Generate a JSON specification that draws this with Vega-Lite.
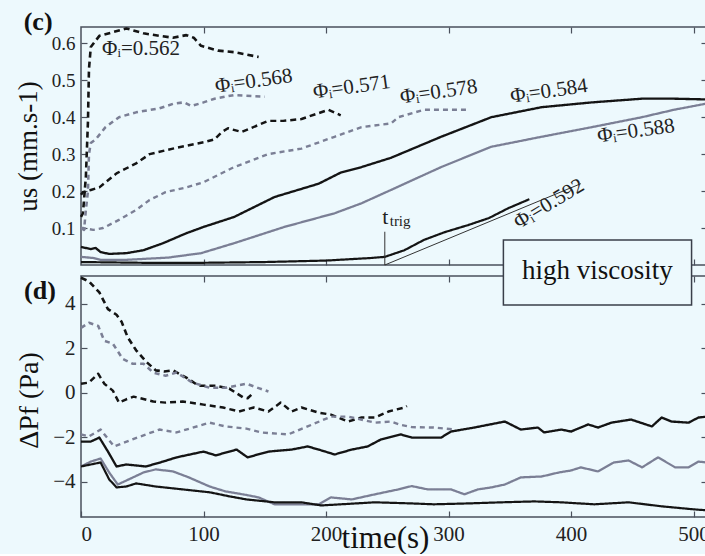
{
  "$schema": "https://vega.github.io/schema/vega-lite/v6.json",
  "background": "#edf9fd",
  "padding": {"left": 13, "top": 8, "right": 0, "bottom": 0},
  "spacing": 11,
  "bounds": "flush",
  "config": {
    "font": "Liberation Serif",
    "view": {"stroke": "#4a505c", "strokeWidth": 1.5},
    "axis": {"domain": false, "grid": false, "tickColor": "#4a505c", "tickSize": -6, "tickWidth": 1.2,
      "labelFont": "Liberation Serif", "titleFont": "Liberation Serif", "labelColor": "#222", "titleColor": "#111", "titleFontWeight": "normal"},
    "text": {"font": "Liberation Serif", "color": "#222"}
  },
  "datasets": {
    "us": [
      {"s":"0.562","t":0,"v":0.13},{"s":"0.562","t":1.6,"v":0.14},{"s":"0.562","t":4,"v":0.24},{"s":"0.562","t":5.7,"v":0.39},{"s":"0.562","t":6.5,"v":0.53},{"s":"0.562","t":8,"v":0.59},{"s":"0.562","t":15,"v":0.62},{"s":"0.562","t":26,"v":0.63},{"s":"0.562","t":37,"v":0.64},{"s":"0.562","t":51,"v":0.627},{"s":"0.562","t":64,"v":0.62},{"s":"0.562","t":75,"v":0.615},{"s":"0.562","t":86,"v":0.622},{"s":"0.562","t":92,"v":0.615},{"s":"0.562","t":98,"v":0.593},{"s":"0.562","t":112,"v":0.58},{"s":"0.562","t":125,"v":0.576},{"s":"0.562","t":145,"v":0.563},
      {"s":"0.568","t":0,"v":0.1},{"s":"0.568","t":2.5,"v":0.095},{"s":"0.568","t":4,"v":0.15},{"s":"0.568","t":5.7,"v":0.2},{"s":"0.568","t":6.5,"v":0.3},{"s":"0.568","t":8,"v":0.33},{"s":"0.568","t":12,"v":0.34},{"s":"0.568","t":20,"v":0.373},{"s":"0.568","t":31,"v":0.4},{"s":"0.568","t":45,"v":0.413},{"s":"0.568","t":64,"v":0.424},{"s":"0.568","t":76,"v":0.437},{"s":"0.568","t":84,"v":0.44},{"s":"0.568","t":90,"v":0.43},{"s":"0.568","t":100,"v":0.44},{"s":"0.568","t":109,"v":0.45},{"s":"0.568","t":125,"v":0.46},{"s":"0.568","t":150,"v":0.455},
      {"s":"0.571","t":0,"v":0.19},{"s":"0.571","t":1.6,"v":0.197},{"s":"0.571","t":8,"v":0.203},{"s":"0.571","t":15,"v":0.21},{"s":"0.571","t":29,"v":0.248},{"s":"0.571","t":45,"v":0.275},{"s":"0.571","t":56,"v":0.3},{"s":"0.571","t":75,"v":0.315},{"s":"0.571","t":100,"v":0.332},{"s":"0.571","t":109,"v":0.34},{"s":"0.571","t":115,"v":0.36},{"s":"0.571","t":120,"v":0.37},{"s":"0.571","t":131,"v":0.36},{"s":"0.571","t":153,"v":0.39},{"s":"0.571","t":165,"v":0.39},{"s":"0.571","t":180,"v":0.395},{"s":"0.571","t":202,"v":0.42},{"s":"0.571","t":212,"v":0.405},
      {"s":"0.578","t":0,"v":0.1},{"s":"0.578","t":1.6,"v":0.1},{"s":"0.578","t":10,"v":0.095},{"s":"0.578","t":18,"v":0.1},{"s":"0.578","t":31,"v":0.122},{"s":"0.578","t":45,"v":0.149},{"s":"0.578","t":56,"v":0.176},{"s":"0.578","t":69,"v":0.197},{"s":"0.578","t":86,"v":0.21},{"s":"0.578","t":100,"v":0.224},{"s":"0.578","t":125,"v":0.265},{"s":"0.578","t":153,"v":0.3},{"s":"0.578","t":180,"v":0.315},{"s":"0.578","t":207,"v":0.347},{"s":"0.578","t":229,"v":0.373},{"s":"0.578","t":253,"v":0.383},{"s":"0.578","t":259,"v":0.4},{"s":"0.578","t":280,"v":0.42},{"s":"0.578","t":316,"v":0.42},
      {"s":"0.584","t":0,"v":0.049},{"s":"0.584","t":8,"v":0.043},{"s":"0.584","t":12,"v":0.046},{"s":"0.584","t":16,"v":0.035},{"s":"0.584","t":23,"v":0.03},{"s":"0.584","t":37,"v":0.032},{"s":"0.584","t":51,"v":0.04},{"s":"0.584","t":67,"v":0.059},{"s":"0.584","t":86,"v":0.086},{"s":"0.584","t":100,"v":0.103},{"s":"0.584","t":125,"v":0.13},{"s":"0.584","t":158,"v":0.184},{"s":"0.584","t":194,"v":0.22},{"s":"0.584","t":212,"v":0.25},{"s":"0.584","t":229,"v":0.265},{"s":"0.584","t":253,"v":0.29},{"s":"0.584","t":294,"v":0.347},{"s":"0.584","t":335,"v":0.4},{"s":"0.584","t":376,"v":0.427},{"s":"0.584","t":417,"v":0.44},{"s":"0.584","t":458,"v":0.45},{"s":"0.584","t":484,"v":0.45},{"s":"0.584","t":511,"v":0.448},
      {"s":"0.588","t":0,"v":0.022},{"s":"0.588","t":10,"v":0.019},{"s":"0.588","t":16,"v":0.014},{"s":"0.588","t":37,"v":0.014},{"s":"0.588","t":71,"v":0.02},{"s":"0.588","t":98,"v":0.032},{"s":"0.588","t":125,"v":0.059},{"s":"0.588","t":166,"v":0.103},{"s":"0.588","t":207,"v":0.14},{"s":"0.588","t":229,"v":0.167},{"s":"0.588","t":253,"v":0.203},{"s":"0.588","t":294,"v":0.265},{"s":"0.588","t":335,"v":0.32},{"s":"0.588","t":376,"v":0.347},{"s":"0.588","t":417,"v":0.373},{"s":"0.588","t":458,"v":0.4},{"s":"0.588","t":484,"v":0.42},{"s":"0.588","t":511,"v":0.437},
      {"s":"0.592","t":0,"v":0.008},{"s":"0.592","t":50,"v":0.006},{"s":"0.592","t":100,"v":0.006},{"s":"0.592","t":150,"v":0.008},{"s":"0.592","t":200,"v":0.012},{"s":"0.592","t":237,"v":0.019},{"s":"0.592","t":248,"v":0.022},{"s":"0.592","t":264,"v":0.04},{"s":"0.592","t":280,"v":0.068},{"s":"0.592","t":297,"v":0.089},{"s":"0.592","t":316,"v":0.108},{"s":"0.592","t":333,"v":0.127},{"s":"0.592","t":349,"v":0.154},{"s":"0.592","t":366,"v":0.178}
    ],
    "dp": [
      {"s":"0.562","t":0,"v":5.16},{"s":"0.562","t":6.5,"v":5.0},{"s":"0.562","t":15,"v":4.5},{"s":"0.562","t":22,"v":3.75},{"s":"0.562","t":29,"v":3.5},{"s":"0.562","t":33,"v":3.2},{"s":"0.562","t":38,"v":2.5},{"s":"0.562","t":45,"v":1.9},{"s":"0.562","t":53,"v":1.4},{"s":"0.562","t":61,"v":1.0},{"s":"0.562","t":68,"v":0.95},{"s":"0.562","t":75,"v":1.0},{"s":"0.562","t":86,"v":0.67},{"s":"0.562","t":96,"v":0.31},{"s":"0.562","t":110,"v":0.31},{"s":"0.562","t":121,"v":0.18},{"s":"0.562","t":132,"v":-0.2},{"s":"0.562","t":136,"v":-0.25},{"s":"0.562","t":141,"v":0.0},
      {"s":"0.568","t":0,"v":2.91},{"s":"0.568","t":6.5,"v":3.14},{"s":"0.568","t":14,"v":3.0},{"s":"0.568","t":19,"v":2.33},{"s":"0.568","t":26,"v":2.2},{"s":"0.568","t":34,"v":1.52},{"s":"0.568","t":42,"v":1.3},{"s":"0.568","t":51,"v":1.3},{"s":"0.568","t":59,"v":0.9},{"s":"0.568","t":69,"v":0.76},{"s":"0.568","t":78,"v":0.9},{"s":"0.568","t":91,"v":0.45},{"s":"0.568","t":105,"v":0.22},{"s":"0.568","t":118,"v":0.22},{"s":"0.568","t":135,"v":0.4},{"s":"0.568","t":145,"v":0.2},{"s":"0.568","t":153,"v":0.05},
      {"s":"0.571","t":0,"v":0.4},{"s":"0.571","t":6.5,"v":0.45},{"s":"0.571","t":14,"v":0.85},{"s":"0.571","t":19,"v":0.4},{"s":"0.571","t":26,"v":0.09},{"s":"0.571","t":31,"v":-0.45},{"s":"0.571","t":37,"v":-0.3},{"s":"0.571","t":43,"v":-0.18},{"s":"0.571","t":59,"v":-0.4},{"s":"0.571","t":69,"v":-0.45},{"s":"0.571","t":83,"v":-0.4},{"s":"0.571","t":100,"v":-0.54},{"s":"0.571","t":116,"v":-0.67},{"s":"0.571","t":129,"v":-0.85},{"s":"0.571","t":141,"v":-0.67},{"s":"0.571","t":153,"v":-0.85},{"s":"0.571","t":163,"v":-0.45},{"s":"0.571","t":172,"v":-0.85},{"s":"0.571","t":180,"v":-0.67},{"s":"0.571","t":194,"v":-0.9},{"s":"0.571","t":204,"v":-0.99},{"s":"0.571","t":218,"v":-1.3},{"s":"0.571","t":229,"v":-1.12},{"s":"0.571","t":240,"v":-1.12},{"s":"0.571","t":251,"v":-0.85},{"s":"0.571","t":264,"v":-0.67},{"s":"0.571","t":266,"v":-0.6},
      {"s":"0.578","t":0,"v":-1.88},{"s":"0.578","t":6.5,"v":-1.97},{"s":"0.578","t":16,"v":-1.66},{"s":"0.578","t":27,"v":-2.42},{"s":"0.578","t":42,"v":-2.1},{"s":"0.578","t":64,"v":-1.66},{"s":"0.578","t":78,"v":-1.79},{"s":"0.578","t":105,"v":-1.35},{"s":"0.578","t":118,"v":-1.52},{"s":"0.578","t":135,"v":-1.62},{"s":"0.578","t":147,"v":-1.79},{"s":"0.578","t":169,"v":-1.88},{"s":"0.578","t":185,"v":-1.52},{"s":"0.578","t":204,"v":-1.08},{"s":"0.578","t":218,"v":-1.08},{"s":"0.578","t":240,"v":-1.35},{"s":"0.578","t":253,"v":-1.3},{"s":"0.578","t":261,"v":-1.45},{"s":"0.578","t":270,"v":-1.55},{"s":"0.578","t":288,"v":-1.57},{"s":"0.578","t":305,"v":-1.66},
      {"s":"0.584","t":0,"v":-2.2},{"s":"0.584","t":8,"v":-2.2},{"s":"0.584","t":15,"v":-2.02},{"s":"0.584","t":22,"v":-2.65},{"s":"0.584","t":29,"v":-3.32},{"s":"0.584","t":37,"v":-3.23},{"s":"0.584","t":53,"v":-3.32},{"s":"0.584","t":67,"v":-3.1},{"s":"0.584","t":78,"v":-2.91},{"s":"0.584","t":100,"v":-2.65},{"s":"0.584","t":110,"v":-2.82},{"s":"0.584","t":127,"v":-2.56},{"s":"0.584","t":136,"v":-2.91},{"s":"0.584","t":153,"v":-2.65},{"s":"0.584","t":172,"v":-2.56},{"s":"0.584","t":185,"v":-2.42},{"s":"0.584","t":194,"v":-2.56},{"s":"0.584","t":207,"v":-2.78},{"s":"0.584","t":221,"v":-2.56},{"s":"0.584","t":234,"v":-2.42},{"s":"0.584","t":245,"v":-2.1},{"s":"0.584","t":261,"v":-1.88},{"s":"0.584","t":270,"v":-2.02},{"s":"0.584","t":294,"v":-2.02},{"s":"0.584","t":302,"v":-1.75},{"s":"0.584","t":321,"v":-1.57},{"s":"0.584","t":346,"v":-1.3},{"s":"0.584","t":359,"v":-1.66},{"s":"0.584","t":373,"v":-1.57},{"s":"0.584","t":378,"v":-1.79},{"s":"0.584","t":392,"v":-1.66},{"s":"0.584","t":400,"v":-1.75},{"s":"0.584","t":414,"v":-1.43},{"s":"0.584","t":422,"v":-1.57},{"s":"0.584","t":433,"v":-1.35},{"s":"0.584","t":449,"v":-1.21},{"s":"0.584","t":466,"v":-1.52},{"s":"0.584","t":474,"v":-1.12},{"s":"0.584","t":482,"v":-1.3},{"s":"0.584","t":496,"v":-1.35},{"s":"0.584","t":504,"v":-1.12},{"s":"0.584","t":511,"v":-1.08},
      {"s":"0.588","t":0,"v":-3.32},{"s":"0.588","t":8,"v":-3.1},{"s":"0.588","t":16,"v":-2.96},{"s":"0.588","t":23,"v":-3.59},{"s":"0.588","t":30,"v":-4.13},{"s":"0.588","t":39,"v":-3.9},{"s":"0.588","t":51,"v":-3.59},{"s":"0.588","t":61,"v":-3.45},{"s":"0.588","t":75,"v":-3.54},{"s":"0.588","t":88,"v":-3.81},{"s":"0.588","t":105,"v":-4.22},{"s":"0.588","t":118,"v":-4.44},{"s":"0.588","t":135,"v":-4.6},{"s":"0.588","t":145,"v":-4.71},{"s":"0.588","t":158,"v":-5.02},{"s":"0.588","t":177,"v":-5.02},{"s":"0.588","t":194,"v":-5.02},{"s":"0.588","t":204,"v":-4.71},{"s":"0.588","t":221,"v":-4.8},{"s":"0.588","t":240,"v":-4.57},{"s":"0.588","t":259,"v":-4.35},{"s":"0.588","t":270,"v":-4.2},{"s":"0.588","t":283,"v":-4.35},{"s":"0.588","t":302,"v":-4.35},{"s":"0.588","t":313,"v":-4.57},{"s":"0.588","t":324,"v":-4.35},{"s":"0.588","t":335,"v":-4.26},{"s":"0.588","t":346,"v":-4.13},{"s":"0.588","t":359,"v":-3.81},{"s":"0.588","t":376,"v":-3.77},{"s":"0.588","t":390,"v":-3.59},{"s":"0.588","t":400,"v":-3.5},{"s":"0.588","t":408,"v":-3.36},{"s":"0.588","t":422,"v":-3.54},{"s":"0.588","t":435,"v":-3.14},{"s":"0.588","t":447,"v":-3.05},{"s":"0.588","t":458,"v":-3.36},{"s":"0.588","t":471,"v":-2.91},{"s":"0.588","t":485,"v":-3.36},{"s":"0.588","t":496,"v":-3.36},{"s":"0.588","t":504,"v":-3.1},{"s":"0.588","t":511,"v":-3.14},
      {"s":"0.592","t":0,"v":-3.32},{"s":"0.592","t":8,"v":-3.23},{"s":"0.592","t":16,"v":-3.14},{"s":"0.592","t":23,"v":-3.9},{"s":"0.592","t":29,"v":-4.26},{"s":"0.592","t":37,"v":-4.22},{"s":"0.592","t":45,"v":-4.08},{"s":"0.592","t":61,"v":-4.22},{"s":"0.592","t":83,"v":-4.35},{"s":"0.592","t":105,"v":-4.48},{"s":"0.592","t":121,"v":-4.66},{"s":"0.592","t":135,"v":-4.8},{"s":"0.592","t":158,"v":-4.93},{"s":"0.592","t":180,"v":-4.93},{"s":"0.592","t":196,"v":-5.07},{"s":"0.592","t":212,"v":-5.02},{"s":"0.592","t":240,"v":-4.93},{"s":"0.592","t":270,"v":-4.98},{"s":"0.592","t":288,"v":-5.02},{"s":"0.592","t":316,"v":-4.98},{"s":"0.592","t":343,"v":-4.93},{"s":"0.592","t":370,"v":-4.89},{"s":"0.592","t":392,"v":-4.93},{"s":"0.592","t":419,"v":-5.02},{"s":"0.592","t":447,"v":-4.93},{"s":"0.592","t":474,"v":-5.11},{"s":"0.592","t":501,"v":-5.25},{"s":"0.592","t":511,"v":-5.29}
    ],
    "annot": [
      {"g":"tangent","t":248,"v":0.0},{"g":"tangent","t":408,"v":0.22},
      {"g":"trig","t":248,"v":0.0},{"g":"trig","t":248,"v":0.09}
    ],
    "labels": [
      {"label":"Φᵢ=0.562","t":49,"v":0.584,"grp":"flat"},
      {"label":"Φᵢ=0.568","t":141,"v":0.497,"grp":"tilt"},
      {"label":"Φᵢ=0.571","t":221,"v":0.481,"grp":"tilt"},
      {"label":"Φᵢ=0.578","t":292,"v":0.468,"grp":"tilt"},
      {"label":"Φᵢ=0.584","t":382,"v":0.47,"grp":"tilt"},
      {"label":"Φᵢ=0.588","t":453,"v":0.362,"grp":"tilt"},
      {"label":"Φᵢ=0.592","t":382,"v":0.165,"grp":"steep"}
    ]
  },
  "vconcat": [
    {
      "width": 626,
      "height": 238,
      "resolve": {"axis": {"x": "independent", "y": "independent"}},
      "layer": [
        {
          "data": {"name": "us"},
          "mark": {"type": "line", "strokeJoin": "round"},
          "encoding": {
            "x": {"field": "t", "type": "quantitative", "scale": {"domain": [0, 511], "nice": false, "zero": false},
              "axis": {"orient": "bottom", "labels": false, "title": null, "values": [100, 200, 300, 400, 500]}},
            "y": {"field": "v", "type": "quantitative", "scale": {"domain": [0, 0.644], "nice": false},
              "axis": {"orient": "left", "values": [0.1, 0.2, 0.3, 0.4, 0.5, 0.6], "format": ".1f", "labelFontSize": 19, "labelPadding": 12, "labelFont": "Liberation Serif",
                "title": "us (mm.s-1)", "titleFont": "Liberation Serif", "titleFontSize": 27, "titleAngle": 270, "titleX": -53, "titleY": 119, "titleAlign": "center", "titleBaseline": "middle"}},
            "detail": {"field": "s"},
            "color": {"field": "s", "type": "nominal", "legend": null,
              "scale": {"domain": ["0.562","0.568","0.571","0.578","0.584","0.588","0.592"], "range": ["#141414","#7b7f95","#141414","#7b7f95","#141414","#7b7f95","#141414"]}},
            "strokeDash": {"field": "s", "type": "nominal", "legend": null,
              "scale": {"domain": ["0.562","0.568","0.571","0.578","0.584","0.588","0.592"], "range": [[6,4],[5,4],[6,4],[5,4],[1,0],[1,0],[1,0]]}},
            "strokeWidth": {"field": "s", "type": "nominal", "legend": null,
              "scale": {"domain": ["0.562","0.568","0.571","0.578","0.584","0.588","0.592"], "range": [2.6,2.2,2.6,2.2,2.3,2.1,2.3]}}
          }
        },
        {
          "data": {"name": "annot"},
          "mark": {"type": "line", "color": "#333", "strokeWidth": 1},
          "encoding": {
            "x": {"field": "t", "type": "quantitative", "axis": {"orient": "top", "labels": false, "title": null, "values": [100, 200, 300, 400, 500]}},
            "y": {"field": "v", "type": "quantitative", "axis": {"orient": "right", "labels": false, "title": null, "values": [0.1, 0.2, 0.3, 0.4, 0.5, 0.6]}},
            "detail": {"field": "g"}
          }
        },
        {
          "data": {"name": "labels"},
          "transform": [{"filter": "datum.grp == 'flat'"}],
          "mark": {"type": "text", "font": "Liberation Serif", "fontSize": 21, "align": "center", "baseline": "middle"},
          "encoding": {
            "x": {"field": "t", "type": "quantitative", "axis": null},
            "y": {"field": "v", "type": "quantitative", "axis": null},
            "text": {"field": "label"}
          }
        },
        {
          "data": {"name": "labels"},
          "transform": [{"filter": "datum.grp == 'tilt'"}],
          "mark": {"type": "text", "font": "Liberation Serif", "fontSize": 21, "align": "center", "baseline": "middle", "angle": 352},
          "encoding": {
            "x": {"field": "t", "type": "quantitative", "axis": null},
            "y": {"field": "v", "type": "quantitative", "axis": null},
            "text": {"field": "label"}
          }
        },
        {
          "data": {"name": "labels"},
          "transform": [{"filter": "datum.grp == 'steep'"}],
          "mark": {"type": "text", "font": "Liberation Serif", "fontSize": 21, "align": "center", "baseline": "middle", "angle": 329},
          "encoding": {
            "x": {"field": "t", "type": "quantitative", "axis": null},
            "y": {"field": "v", "type": "quantitative", "axis": null},
            "text": {"field": "label"}
          }
        },
        {
          "data": {"values": [{"label": "t", "t": 246, "v": 0.13}]},
          "mark": {"type": "text", "font": "Liberation Serif", "fontSize": 22, "align": "left", "baseline": "middle"},
          "encoding": {
            "x": {"field": "t", "type": "quantitative", "axis": null},
            "y": {"field": "v", "type": "quantitative", "axis": null},
            "text": {"field": "label"}
          }
        },
        {
          "data": {"values": [{"label": "trig", "t": 252, "v": 0.12}]},
          "mark": {"type": "text", "font": "Liberation Serif", "fontSize": 15, "align": "left", "baseline": "middle"},
          "encoding": {
            "x": {"field": "t", "type": "quantitative", "axis": null},
            "y": {"field": "v", "type": "quantitative", "axis": null},
            "text": {"field": "label"}
          }
        },
        {
          "data": {"values": [{"label": "(c)", "t": -35, "v": 0.657}]},
          "mark": {"type": "text", "font": "Liberation Serif", "fontSize": 26, "fontWeight": "bold", "align": "center", "baseline": "middle", "color": "#111"},
          "encoding": {
            "x": {"field": "t", "type": "quantitative", "axis": null},
            "y": {"field": "v", "type": "quantitative", "axis": null},
            "text": {"field": "label"}
          }
        }
      ]
    },
    {
      "width": 626,
      "height": 241,
      "resolve": {"axis": {"x": "independent", "y": "independent"}},
      "layer": [
        {
          "data": {"name": "dp"},
          "mark": {"type": "line", "strokeJoin": "round"},
          "encoding": {
            "x": {"field": "t", "type": "quantitative", "scale": {"domain": [0, 511], "nice": false, "zero": false},
              "axis": {"orient": "bottom", "values": [0, 100, 200, 300, 400, 500], "labelFontSize": 21, "labelPadding": 12, "labelFont": "Liberation Serif",
                "title": "time(s)", "titleFont": "Liberation Serif", "titleFontSize": 31, "titleX": 304, "titleY": 6, "titleAlign": "center", "titleBaseline": "top"}},
            "y": {"field": "v", "type": "quantitative", "scale": {"domain": [-5.59, 5.24], "nice": false, "zero": false},
              "axis": {"orient": "left", "values": [-4, -2, 0, 2, 4], "labelFontSize": 21, "labelPadding": 12, "labelFont": "Liberation Serif",
                "title": "ΔPf (Pa)", "titleFont": "Liberation Serif", "titleFontSize": 28, "titleAngle": 270, "titleX": -52, "titleY": 124, "titleAlign": "center", "titleBaseline": "middle"}},
            "detail": {"field": "s"},
            "color": {"field": "s", "type": "nominal", "legend": null,
              "scale": {"domain": ["0.562","0.568","0.571","0.578","0.584","0.588","0.592"], "range": ["#141414","#7b7f95","#141414","#7b7f95","#141414","#7b7f95","#141414"]}},
            "strokeDash": {"field": "s", "type": "nominal", "legend": null,
              "scale": {"domain": ["0.562","0.568","0.571","0.578","0.584","0.588","0.592"], "range": [[6,4],[5,4],[6,4],[5,4],[1,0],[1,0],[1,0]]}},
            "strokeWidth": {"field": "s", "type": "nominal", "legend": null,
              "scale": {"domain": ["0.562","0.568","0.571","0.578","0.584","0.588","0.592"], "range": [2.6,2.2,2.6,2.2,2.3,2.1,2.3]}}
          }
        },
        {
          "mark": {"type": "rule", "color": "#3a3f4a", "strokeWidth": 1.5},
          "encoding": {
            "y": {"datum": 0, "type": "quantitative", "axis": {"orient": "right", "labels": false, "title": null, "values": [-4, -2, 0, 2, 4]}}
          }
        },
        {
          "data": {"values": [{"t1": 344.8, "t2": 498.4, "v1": 3.94, "v2": 6.86}]},
          "mark": {"type": "rect", "fill": "#edf9fd", "stroke": "#3a3f4a", "strokeWidth": 1.5},
          "encoding": {
            "x": {"field": "t1", "type": "quantitative", "axis": {"orient": "top", "labels": false, "title": null, "values": [100, 200, 300, 400, 500]}},
            "x2": {"field": "t2"},
            "y": {"field": "v1", "type": "quantitative", "axis": null},
            "y2": {"field": "v2"}
          }
        },
        {
          "data": {"values": [{"label": "high viscosity", "t": 421.6, "v": 5.47}]},
          "mark": {"type": "text", "font": "Liberation Serif", "fontSize": 27, "align": "center", "baseline": "middle", "color": "#111"},
          "encoding": {
            "x": {"field": "t", "type": "quantitative", "axis": null},
            "y": {"field": "v", "type": "quantitative", "axis": null},
            "text": {"field": "label"}
          }
        },
        {
          "data": {"values": [{"label": "(d)", "t": -33.5, "v": 4.57}]},
          "mark": {"type": "text", "font": "Liberation Serif", "fontSize": 26, "fontWeight": "bold", "align": "center", "baseline": "middle", "color": "#111"},
          "encoding": {
            "x": {"field": "t", "type": "quantitative", "axis": null},
            "y": {"field": "v", "type": "quantitative", "axis": null},
            "text": {"field": "label"}
          }
        }
      ]
    }
  ]
}
